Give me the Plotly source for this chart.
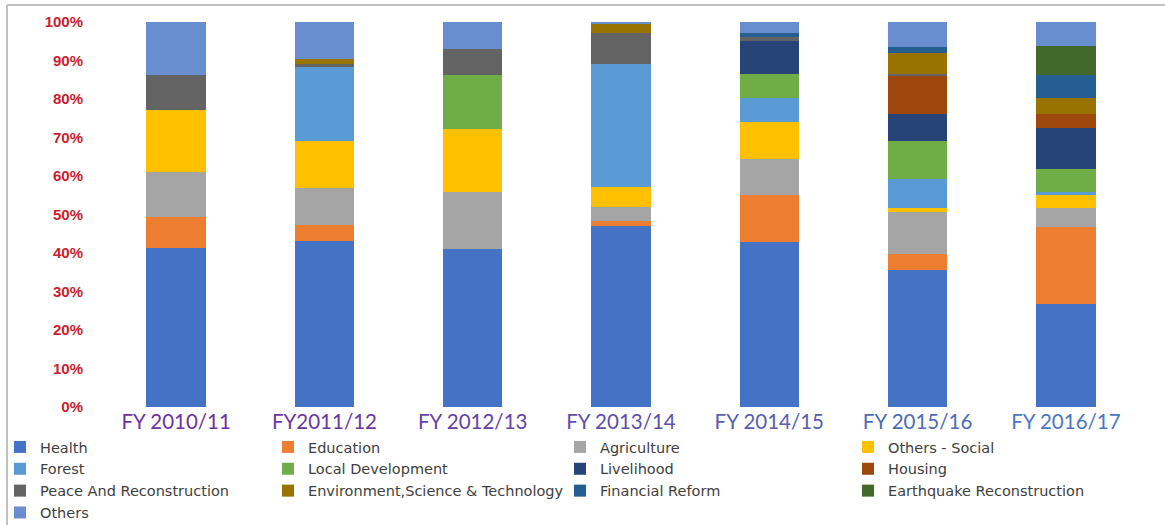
import plotly.graph_objects as go

years = ["FY 2010/11", "FY2011/12", "FY 2012/13", "FY 2013/14", "FY 2014/15", "FY 2015/16", "FY 2016/17"]
tick_colors = ["#7030A0", "#6C36A2", "#6542A5", "#5E4FA8", "#585DAD", "#4F6BB5", "#4A77BF"]

health = [41.4, 43.1, 41.1, 47.0, 42.9, 35.5, 26.8]
education = [8.0, 4.3, 0.0, 1.4, 12.2, 4.2, 19.9]
agriculture = [11.6, 9.4, 14.7, 3.5, 9.4, 10.9, 4.9]
others_social = [16.1, 12.3, 16.4, 5.2, 9.5, 1.0, 3.5]
forest = [0.0, 19.3, 0.0, 31.9, 6.3, 7.6, 0.7]
local_dev = [0.0, 0.0, 14.0, 0.0, 6.3, 9.8, 5.9]
livelihood = [0.0, 0.0, 0.0, 0.0, 8.4, 7.1, 10.8]
housing = [0.0, 0.0, 0.0, 0.0, 0.0, 9.8, 3.6]
peace = [9.1, 0.6, 6.7, 8.1, 1.0, 0.7, 0.0]
environment = [0.0, 1.4, 0.0, 2.5, 0.0, 5.3, 4.2]
financial = [0.0, 0.0, 0.0, 0.0, 1.1, 1.7, 5.9]
earthquake = [0.0, 0.0, 0.0, 0.0, 0.0, 0.0, 7.5]
others = [13.8, 9.6, 7.1, 0.4, 2.9, 6.4, 6.3]

series_names = ["Health", "Education", "Agriculture", "Others - Social", "Forest",
                "Local Development", "Livelihood", "Housing", "Peace And Reconstruction",
                "Environment,Science & Technology", "Financial Reform",
                "Earthquake Reconstruction", "Others"]
series_values = [health, education, agriculture, others_social, forest, local_dev,
                 livelihood, housing, peace, environment, financial, earthquake, others]
series_colors = ["#4472C4", "#ED7D31", "#A5A5A5", "#FFC000", "#5B9BD5", "#70AD47",
                 "#264478", "#9E480E", "#636363", "#997300", "#255E91", "#43682B", "#698ED0"]

legend_ids = ["legend", "legend2", "legend3", "legend4"]

fig = go.Figure()
for i, (name, vals, col) in enumerate(zip(series_names, series_values, series_colors)):
    fig.add_trace(go.Bar(
        x=years, y=[v / 100 for v in vals], name=name,
        marker=dict(color=col, line=dict(width=0)),
        width=0.4,
        legend=legend_ids[i % 4],
    ))

W, H = 1165, 525
ml, mr, mt, mb = 102, 25, 22, 118
pw = W - ml - mr
ph = H - mt - mb

def px_x(p):
    return (p - ml) / pw

def px_y(p):
    return (H - mb - p) / ph

ticktext = [f'<span style="color:{c}">{y}</span>' for y, c in zip(years, tick_colors)]

legend_x_px = [0, 268, 560, 848]
legend_font = dict(family="DejaVu Sans, Noto Sans, sans-serif", size=14.5, color="#404040")

def make_legend(xp):
    return dict(
        orientation="v", traceorder="normal",
        xref="container", yref="container",
        x=xp / W, y=1 - 431 / H, xanchor="left", yanchor="top",
        font=legend_font, itemsizing="constant", tracegroupgap=0, itemwidth=30,
        bgcolor="rgba(0,0,0,0)",
    )

fig.update_layout(
    width=W, height=H,
    barmode="stack",
    plot_bgcolor="white", paper_bgcolor="white",
    margin=dict(l=ml, r=mr, t=mt, b=mb, autoexpand=False),
    xaxis=dict(
        tickmode="array", tickvals=years, ticktext=ticktext,
        tickfont=dict(family="Lato, Open Sans, sans-serif", size=20.5, color="#7030A0"),
        showline=False, showgrid=False, ticks="", ticklabelstandoff=0,
    ),
    yaxis=dict(
        range=[0, 1], tickformat=".0%", dtick=0.1,
        tickfont=dict(family="Liberation Sans, Arial, sans-serif", size=15, color="#CC2030", weight="bold"),
        showgrid=False, showline=False, zeroline=False, ticks="",
        ticklabelstandoff=18,
    ),
    legend=make_legend(legend_x_px[0]),
    legend2=make_legend(legend_x_px[1]),
    legend3=make_legend(legend_x_px[2]),
    legend4=make_legend(legend_x_px[3]),
    shapes=[
        dict(type="line", xref="paper", yref="paper", x0=px_x(7), x1=px_x(1165), y0=px_y(5), y1=px_y(5),
             line=dict(color="#C0C0C0", width=2)),
        dict(type="line", xref="paper", yref="paper", x0=px_x(7), x1=px_x(7), y0=px_y(5), y1=px_y(525),
             line=dict(color="#C0C0C0", width=2)),
    ],
)

fig.write_html("out.html", config={"displayModeBar": False},
               post_script="document.body.style.margin='0';")
